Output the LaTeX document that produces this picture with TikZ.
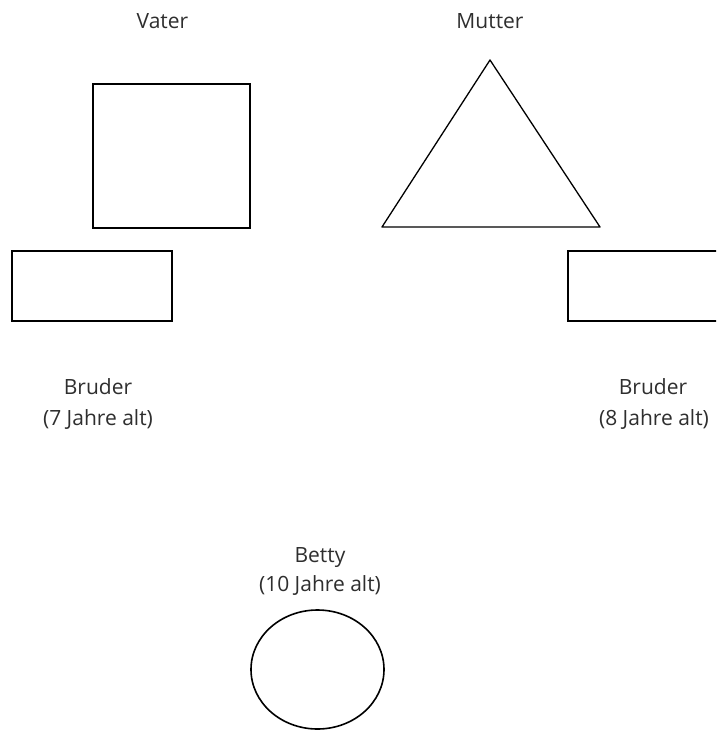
\documentclass[tikz,border=0pt]{standalone}
\usepackage{fontspec}
\setmainfont{Open Sans}
\usetikzlibrary{shapes.geometric}
\begin{document}
\begin{tikzpicture}[x=1pt,y=-1pt,
  lbl/.style={text=black!82,font=\fontsize{21}{30}\selectfont,anchor=base,inner sep=0pt},
  thickbox/.style={draw,line width=2.2pt,inner sep=0pt},
  thinline/.style={draw,line width=1.3pt}]
\useasboundingbox (0,0) rectangle (716,731);
\clip (0,0) rectangle (716,731);
\node[lbl] (vater) at (162.5,28) {Vater};
\node[lbl] (mutter) at (490,28) {Mutter};
\node[thickbox,minimum width=157pt,minimum height=144pt] (vsq) at (171.5,156) {};
\coordinate (ta) at (490,60);
\coordinate (tl) at (382,227);
\coordinate (tr) at (600,227);
\draw[thinline,line join=round] (ta) -- (tl) -- (tr) -- cycle;
\node[thickbox,minimum width=160pt,minimum height=70pt] (b1) at (92,286) {};
\node[thickbox,minimum width=160pt,minimum height=70pt] (b2) at (648,286) {};
\node[lbl] (b1a) at (98,394.5) {Bruder};
\node[lbl] (b1b) at (98,425) {(7 Jahre alt)};
\node[lbl] (b2a) at (653,394.5) {Bruder};
\node[lbl] (b2b) at (654,425) {(8 Jahre alt)};
\node[lbl] (bta) at (320,562.5) {Betty};
\node[lbl] (btb) at (320,591) {(10 Jahre alt)};
\node[draw,ellipse,line width=1.6pt,minimum width=133pt,minimum height=119pt,inner sep=0pt] (betty) at (317.5,669.5) {};
\end{tikzpicture}
\end{document}
